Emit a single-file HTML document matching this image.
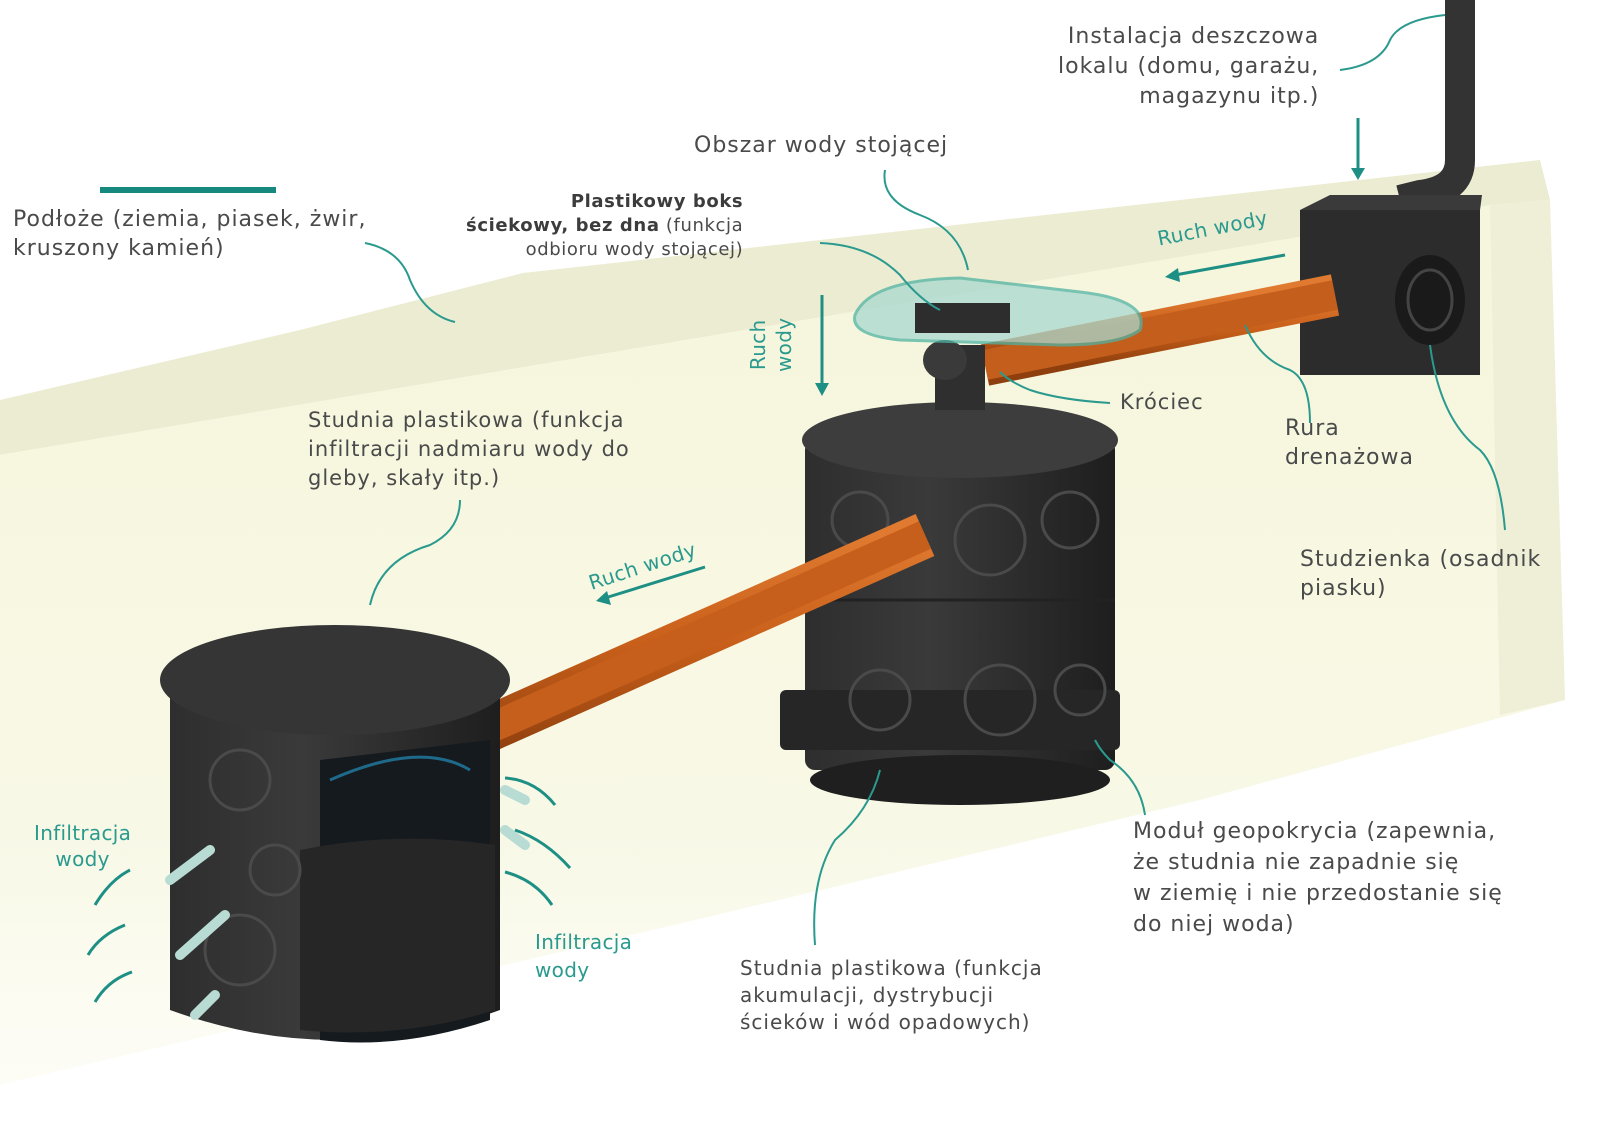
<!DOCTYPE html>
<html><head><meta charset="utf-8"><style>
html,body{margin:0;padding:0;background:#fff;}
body{width:1600px;height:1139px;overflow:hidden;position:relative;font-family:"Liberation Sans","DejaVu Sans",sans-serif;}
.t{position:absolute;color:#4a4a4a;font-family:"DejaVu Sans","Liberation Sans",sans-serif;font-size:21px;line-height:29px;white-space:nowrap;letter-spacing:1px;}
.g{color:#2a9a8e;letter-spacing:0.3px;}
svg{position:absolute;left:0;top:0;}
</style></head><body>
<svg width="1600" height="1139" viewBox="0 0 1600 1139">
<defs>
<linearGradient id="fr" x1="0" y1="0" x2="0" y2="1"><stop offset="0" stop-color="#f6f6dc"/><stop offset="0.7" stop-color="#f8f8e6"/><stop offset="1" stop-color="#fdfdf7"/></linearGradient>
<linearGradient id="cyl" x1="0" y1="0" x2="1" y2="0"><stop offset="0" stop-color="#2e2e2e"/><stop offset="0.4" stop-color="#3a3a3a"/><stop offset="1" stop-color="#1e1e1e"/></linearGradient>
<linearGradient id="pipe" x1="0" y1="0" x2="0" y2="1"><stop offset="0" stop-color="#e07a30"/><stop offset="0.5" stop-color="#c85f1a"/><stop offset="1" stop-color="#8f3f0e"/></linearGradient>
</defs>
<polygon points="0,400 300,330 523,273 1540,160 1550,200 1490,205 0,455" fill="#ececd2"/>
<polygon points="0,455 1490,205 1550,200 1565,700 1200,800 0,1085" fill="url(#fr)"/>
<polygon points="1490,205 1550,200 1565,700 1500,715" fill="#efefd8"/>
<path d="M1460,0 L1460,160 Q1460,190 1420,195 L1400,200" stroke="#333" stroke-width="30" fill="none"/>
<rect x="1300" y="210" width="180" height="165" fill="#2c2c2c"/>
<polygon points="1300,210 1330,195 1482,195 1480,210" fill="#3a3a3a"/>
<ellipse cx="1430" cy="300" rx="35" ry="45" fill="#1a1a1a"/>
<ellipse cx="1430" cy="300" rx="22" ry="30" fill="none" stroke="#444" stroke-width="3"/>
<line x1="985" y1="365" x2="1335" y2="295" stroke="url(#pipe)" stroke-width="42"/>
<line x1="985" y1="365" x2="1335" y2="295" stroke="#c45e1c" stroke-width="30"/>
<rect x="805" y="440" width="310" height="330" fill="url(#cyl)" rx="10"/>
<ellipse cx="960" cy="440" rx="158" ry="38" fill="#3d3d3d"/>
<ellipse cx="960" cy="780" rx="150" ry="25" fill="#1f1f1f"/>
<rect x="780" y="690" width="340" height="60" fill="#262626" rx="6"/>
<g fill="none" stroke="#4a4a4a" stroke-width="3">
<circle cx="860" cy="520" r="28"/><circle cx="990" cy="540" r="35"/><circle cx="1070" cy="520" r="28"/>
<circle cx="880" cy="700" r="30"/><circle cx="1000" cy="700" r="35"/><circle cx="1080" cy="690" r="25"/>
</g>
<line x1="805" y1="600" x2="1115" y2="600" stroke="#222" stroke-width="3"/>
<rect x="935" y="345" width="50" height="65" fill="#2f2f2f"/>
<ellipse cx="945" cy="360" rx="22" ry="20" fill="#3a3a3a"/>
<path d="M855,315 Q870,280 960,278 L1080,292 Q1150,300 1140,330 Q1120,345 1060,345 L900,340 Q850,335 855,315Z" fill="#a8d8cf" opacity="0.75" stroke="#4fb3a3" stroke-width="3"/>
<rect x="915" y="303" width="95" height="30" fill="#2d2d2d"/>
<line x1="430" y1="755" x2="925" y2="535" stroke="url(#pipe)" stroke-width="46"/>
<line x1="430" y1="755" x2="925" y2="535" stroke="#c65f1c" stroke-width="30"/>
<path d="M170,690 L170,1010 Q335,1070 500,1010 L500,690Z" fill="url(#cyl)"/>
<ellipse cx="335" cy="680" rx="175" ry="55" fill="#353535"/>
<path d="M320,760 L490,740 L490,1020 Q400,1050 320,1040Z" fill="#151a1f"/>
<path d="M330,780 Q420,740 470,770" stroke="#1f6a8a" stroke-width="3" fill="none"/>
<path d="M300,850 Q400,830 495,845 L495,1010 Q400,1040 300,1030Z" fill="#262626"/>
<g fill="none" stroke="#4a4a4a" stroke-width="3">
<circle cx="240" cy="780" r="30"/><circle cx="240" cy="950" r="35"/><circle cx="275" cy="870" r="25"/>
</g>
<g stroke="#b8dcd4" stroke-width="10" stroke-linecap="round">
<line x1="170" y1="880" x2="210" y2="850"/><line x1="180" y1="955" x2="225" y2="915"/><line x1="195" y1="1015" x2="215" y2="995"/>
<line x1="505" y1="790" x2="525" y2="800"/><line x1="505" y1="830" x2="525" y2="845"/>
</g>
<rect x="100" y="187" width="176" height="6" fill="#16897e"/>
<g fill="none" stroke="#2a9a8e" stroke-width="2">
<path d="M365,243 Q400,250 410,280 Q425,315 455,322"/>
<path d="M885,170 Q880,200 920,215 Q960,230 968,270"/>
<path d="M820,243 Q870,245 900,275 Q920,300 940,310"/>
<path d="M1110,403 Q1060,400 1030,390 Q1010,382 1000,372"/>
<path d="M1310,423 Q1310,380 1290,370 Q1260,360 1245,325"/>
<path d="M1505,530 Q1500,470 1480,450 Q1440,420 1430,345"/>
<path d="M1445,15 Q1400,20 1390,40 Q1380,65 1340,70"/>
<path d="M460,500 Q460,530 430,545 Q380,560 370,605"/>
<path d="M1145,815 Q1140,780 1110,760 Q1100,750 1095,740"/>
<path d="M815,945 Q810,880 835,840 Q870,810 880,770"/>
</g>
<g stroke="#1e8f84" stroke-width="3" fill="#1e8f84">
<line x1="1358" y1="118" x2="1358" y2="172"/><polygon points="1351,168 1365,168 1358,180" stroke="none"/>
<line x1="1285" y1="255" x2="1175" y2="275"/><polygon points="1178,268 1180,282 1165,277" stroke="none"/>
<line x1="822" y1="295" x2="822" y2="387"/><polygon points="815,383 829,383 822,396" stroke="none"/>
<line x1="705" y1="567" x2="605" y2="598"/><polygon points="607,591 611,605 596,601" stroke="none"/>
</g>
<g fill="none" stroke="#1e8f84" stroke-width="3">
<path d="M130,870 Q110,880 95,905"/><path d="M125,925 Q100,935 88,955"/><path d="M132,972 Q108,980 95,1002"/>
<path d="M505,778 Q535,780 555,805"/><path d="M515,830 Q545,840 570,868"/><path d="M505,872 Q535,880 552,905"/>
</g>
</svg>
<div class="t" style="left:13px;top:205px;font-size:22px;">Podłoże (ziemia, piasek, żwir,<br>kruszony kamień)</div>
<div class="t" style="left:466px;top:190px;font-size:18px;line-height:24px;text-align:right;letter-spacing:0.6px;"><b style="color:#3c3c3c">Plastikowy boks</b><br><b style="color:#3c3c3c">ściekowy, bez dna</b> (funkcja<br>odbioru wody stojącej)</div>
<div class="t" style="left:694px;top:131px;font-size:22px;">Obszar wody stojącej</div>
<div class="t" style="left:1058px;top:22px;font-size:22px;text-align:right;line-height:30px;">Instalacja deszczowa<br>lokalu (domu, garażu,<br>magazynu itp.)</div>
<div class="t g" style="left:1155px;top:225px;font-size:20px;transform:rotate(-11deg);transform-origin:left top;">Ruch wody</div>
<div class="t g" style="left:745px;top:372px;font-size:20px;line-height:26px;transform:rotate(-90deg);transform-origin:left top;text-align:center;">Ruch<br>wody</div>
<div class="t" style="left:1120px;top:388px;">Króciec</div>
<div class="t" style="left:1285px;top:414px;font-size:22px;">Rura<br>drenażowa</div>
<div class="t" style="left:1300px;top:545px;font-size:22px;">Studzienka (osadnik<br>piasku)</div>
<div class="t" style="left:308px;top:406px;">Studnia plastikowa (funkcja<br>infiltracji nadmiaru wody do<br>gleby, skały itp.)</div>
<div class="t g" style="left:585px;top:570px;font-size:20px;transform:rotate(-18deg);transform-origin:left top;">Ruch wody</div>
<div class="t g" style="left:34px;top:820px;font-size:20px;line-height:26px;text-align:center;">Infiltracja<br>wody</div>
<div class="t g" style="left:535px;top:928px;font-size:20px;line-height:28px;">Infiltracja<br>wody</div>
<div class="t" style="left:1133px;top:816px;font-size:22px;line-height:31px;">Moduł geopokrycia (zapewnia,<br>że studnia nie zapadnie się<br>w ziemię i nie przedostanie się<br>do niej woda)</div>
<div class="t" style="left:740px;top:955px;font-size:20px;line-height:27px;">Studnia plastikowa (funkcja<br>akumulacji, dystrybucji<br>ścieków i wód opadowych)</div>
</body></html>
